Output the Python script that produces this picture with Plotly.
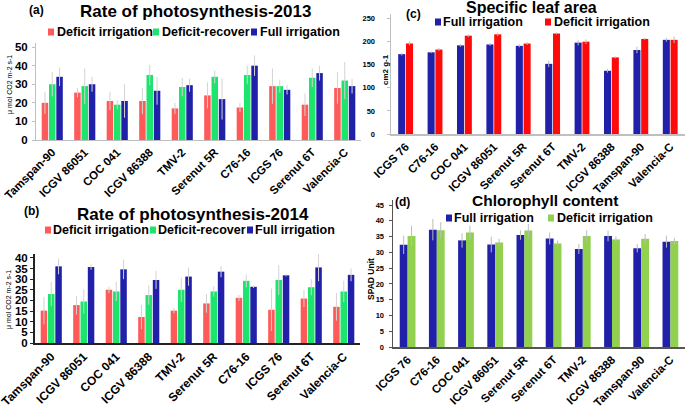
import plotly.graph_objects as go

# ---------------- data ----------------
cats_ab = ["Tamspan-90", "ICGV 86051", "COC 041", "ICGV 86388", "TMV-2",
           "Serenut 5R", "C76-16", "ICGS 76", "Serenut 6T", "Valencia-C"]

a_deficit = [20, 25.5, 21, 21, 17, 24, 17.5, 29, 19, 28]
a_recover = [30, 29, 19, 35, 28.5, 34, 35, 29, 33.5, 32]
a_full = [34, 30, 21, 26.5, 29.5, 22, 40, 27, 36, 29]
a_deficit_err = [6, 2.5, 5, 7, 3, 7, 2.5, 9.5, 6, 8.5]
a_recover_err = [6.5, 9.5, 2.5, 5.5, 5, 3.5, 5, 3.5, 5, 10]
a_full_err = [5, 4, 9, 7.5, 3.5, 11, 5.5, 2.5, 4, 4]

b_deficit = [15.2, 17.8, 25, 12.2, 15.2, 18.6, 21.2, 15.6, 20.9, 17]
b_recover = [23, 19.5, 24.2, 22.5, 25, 24.2, 29.2, 29.6, 26.2, 24.2]
b_full = [36, 35.7, 34.6, 29.6, 31.2, 33.5, 26.4, 31.8, 35.5, 32]
b_deficit_err = [6.4, 4.4, 1.5, 5.7, 1.3, 4.4, 1.4, 10, 4, 6.5]
b_recover_err = [5.7, 5.7, 4.5, 4.5, 5.7, 2.4, 3, 7, 3.8, 5]
b_full_err = [3.7, 1.3, 4.6, 4.2, 4.3, 2.6, 0.6, 0.5, 6.5, 3]

cats_cd = ["ICGS 76", "C76-16", "COC 041", "ICGV 86051", "Serenut 5R",
           "Serenut 6T", "TMV-2", "ICGV 86388", "Tamspan-90", "Valencia-C"]

c_full = [173, 177, 192, 194, 191, 152, 198, 137, 182, 204]
c_deficit = [196, 183, 213, 216, 196, 218, 200, 166, 206, 204]
c_full_err = [3, 2, 3, 3, 3, 7, 6, 4, 7, 4]
c_deficit_err = [4, 3, 3, 4, 3, 2, 5, 2, 2, 7]

d_full = [32.4, 37.2, 33.8, 32.5, 35.5, 34.4, 31.1, 35.2, 31.3, 33.4]
d_deficit = [35.2, 37.0, 36.3, 33.1, 36.9, 32.8, 35.2, 34.1, 34.3, 33.6]
d_full_err = [2.9, 3.4, 2.3, 2.5, 1.5, 1.9, 1.6, 1.7, 1.3, 1.9]
d_deficit_err = [3.3, 2.6, 2.2, 1.2, 2.1, 0.9, 1.8, 0.9, 1.5, 1.0]

# ---------------- styles ----------------
W, H = 685, 411
FONT = "Arial, Liberation Sans, sans-serif"
RED_AB = "#FF5A5A"
GREEN_AB = "#1CE46C"
BLUE = "#2020A8"
RED_C = "#FF0A0A"
GREEN_D = "#92D050"
ERR = "#D3D3D3"


def px(x):
    return x / W


def py(y):
    return 1 - y / H


fig = go.Figure()


def add_bar(xs, ys, err, color, xa, ya, offset, width, errcolor=ERR):
    fig.add_trace(go.Bar(
        x=xs, y=ys, marker=dict(color=color, line=dict(width=0)),
        offset=offset, width=width, xaxis=xa, yaxis=ya, showlegend=False,
        error_y=dict(type="data", array=err, color=errcolor, thickness=1, width=0),
    ))


# panel a
wa = 0.2
add_bar(cats_ab, a_deficit, a_deficit_err, RED_AB, "x", "y", -0.325, wa)
add_bar(cats_ab, a_recover, a_recover_err, GREEN_AB, "x", "y", -0.1, wa)
add_bar(cats_ab, a_full, a_full_err, BLUE, "x", "y", 0.125, wa)
# panel b
add_bar(cats_ab, b_deficit, b_deficit_err, RED_AB, "x2", "y2", -0.325, wa)
add_bar(cats_ab, b_recover, b_recover_err, GREEN_AB, "x2", "y2", -0.1, wa)
add_bar(cats_ab, b_full, b_full_err, BLUE, "x2", "y2", 0.125, wa)
# panel c
add_bar(cats_cd, c_full, c_full_err, BLUE, "x3", "y3", -0.255, 0.24, "#BDBDBD")
add_bar(cats_cd, c_deficit, c_deficit_err, RED_C, "x3", "y3", 0.01, 0.24, "#BDBDBD")
# panel d
add_bar(cats_cd, d_full, d_full_err, BLUE, "x4", "y4", -0.27, 0.27, "#BDBDBD")
add_bar(cats_cd, d_deficit, d_deficit_err, GREEN_D, "x4", "y4", 0.0, 0.27, "#BDBDBD")


def xaxis(dom, anchor, lc, lw, size):
    return dict(domain=dom, anchor=anchor, type="category", showgrid=False,
                showline=True, linecolor=lc, linewidth=lw, ticks="", automargin=False,
                tickangle=-45, tickfont=dict(family=FONT, size=size, color="#000", weight="bold"),
                range=[-0.5, 9.5], zeroline=False, fixedrange=True)


def yaxis(dom, anchor, rng, dtick, lc, lw, size, standoff):
    return dict(domain=dom, anchor=anchor, range=rng, dtick=dtick, showgrid=False,
                showline=True, linecolor=lc, linewidth=lw, ticks="outside", ticklen=3,
                tickcolor=lc, zeroline=False, ticklabelstandoff=standoff, automargin=False,
                tickfont=dict(family=FONT, size=size, color="#000", weight="bold"),
                fixedrange=True)


fig.update_layout(
    width=W, height=H, margin=dict(l=0, r=0, t=0, b=0, autoexpand=False),
    paper_bgcolor="white", plot_bgcolor="white", barmode="overlay",
    xaxis=xaxis([px(36), px(361)], "y", "#BFBFBF", 1, 11.5),
    yaxis=yaxis([py(140), py(43)], "x", [0, 52.2], 10, "#BFBFBF", 1, 11.5, 2),
    xaxis2=xaxis([px(35), px(360)], "y2", "#222222", 2, 12),
    yaxis2=yaxis([py(343), py(254)], "x2", [0, 41.8], 5, "#222222", 2, 11.5, 0),
    xaxis3=xaxis([px(391), 1.0], "y3", "#BFBFBF", 1.5, 11.5),
    yaxis3=yaxis([py(134), py(14)], "x3", [0, 260], 50, "#BFBFBF", 1.5, 7.5, 10),
    xaxis4=xaxis([px(393), 1.0], "y4", "#555555", 1.5, 11.5),
    yaxis4=yaxis([py(347), py(200)], "x4", [0, 46.6], 5, "#555555", 1.5, 7.5, 3),
)

ann = []
shapes = []


def text(x, y, s, size, bold=True, angle=0, xanchor="left"):
    ann.append(dict(x=px(x), y=py(y), xref="paper", yref="paper", text=s, showarrow=False,
                    xanchor=xanchor, yanchor="middle", textangle=angle,
                    font=dict(family=FONT, size=size, color="#000", weight="bold" if bold else "normal")))


def key(x, y, color, w=6, h=7):
    shapes.append(dict(type="rect", xref="paper", yref="paper", x0=px(x), x1=px(x + w),
                       y0=py(y + h / 2), y1=py(y - h / 2), fillcolor=color, line=dict(width=0)))


# titles
text(195, 12, "Rate of photosynthesis-2013", 17, xanchor="center")
text(193, 214, "Rate of photosynthesis-2014", 17, xanchor="center")
text(531, 8, "Specific leaf area", 16, xanchor="center")
text(545, 201, "Chlorophyll content", 15.5, xanchor="center")
# panel labels
text(27, 10, "(a)", 12)
text(22, 211, "(b)", 12)
text(404, 14, "(c)", 12)
text(393, 202, "(d)", 12)

# legends
key(48, 32, RED_AB); text(55, 32, "Deficit irrigation", 12.5)
key(153, 32, GREEN_AB); text(160, 32, "Deficit-recover", 12.5)
key(251, 32, BLUE); text(258, 32, "Full irrigation", 12.5)

key(45, 230, RED_AB); text(51, 230, "Deficit irrigation", 12.5)
key(150, 230, GREEN_AB); text(156, 230, "Deficit-recover", 12.5)
key(247, 230, BLUE); text(253, 230, "Full irrigation", 12.5)

key(435, 22, BLUE); text(441, 22, "Full irrigation", 12.5)
key(545, 22, RED_C); text(552, 22, "Deficit irrigation", 12.5)

key(446, 218, BLUE); text(452, 218, "Full irrigation", 12.5)
key(548, 218, GREEN_D); text(555, 218, "Deficit irrigation", 12.5)

# y-axis titles
text(10, 85, "μ mol CO2 m-2 s-1", 7, bold=False, angle=-90, xanchor="center")
text(9, 300, "μ mol CO2 m-2 s-1", 7, bold=False, angle=-90, xanchor="center")
text(385, 70, "cm2 g-1", 8, angle=-90, xanchor="center")
text(371, 279, "SPAD Unit", 8.5, angle=-90, xanchor="center")

fig.update_layout(annotations=ann, shapes=shapes)
fig.write_html(
    "out.html",
    config={"displayModeBar": False, "staticPlot": True},
    post_script="document.body.style.margin='0';document.body.style.overflow='hidden';",
)
